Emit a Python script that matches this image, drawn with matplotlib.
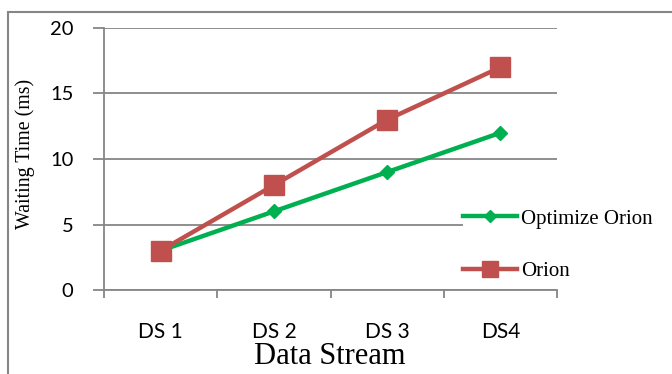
import matplotlib.pyplot as plt
from matplotlib.patches import Rectangle

# --------------------------------------------------
# Data
# --------------------------------------------------
streams = ["DS 1", "DS 2", "DS 3", "DS4"]
optimize_orion = [3, 6, 9, 12]
orion = [3, 8, 13, 17]
y_ticks = [0, 5, 10, 15, 20]

GRID = "#868686"
GREEN = "#00B050"
RED = "#C0504D"
TICK_FONT = ["Lato", "DejaVu Sans"]
SERIF = ["Liberation Serif", "DejaVu Serif"]

fig = plt.figure(figsize=(6.72, 3.74), dpi=100)
ax = fig.add_axes([104 / 672, 1 - 290 / 374, (557 - 104) / 672, (290 - 28) / 374])

x = list(range(len(streams)))
ax.plot(x, optimize_orion, color=GREEN, lw=3.2, marker="D", ms=7.5,
        label="Optimize Orion", zorder=3)
ax.plot(x, orion, color=RED, lw=3.2, marker="s", ms=14,
        label="Orion", zorder=4)

# axes, grid and ticks
ax.set_xlim(-0.5, len(streams) - 0.5)
ax.set_ylim(0, 20)
ax.set_yticks(y_ticks)
ax.set_yticklabels([str(v) for v in y_ticks], fontsize=14.5, family=TICK_FONT)
ax.tick_params(axis="y", length=8, width=1.3, color=GRID, pad=14)
ax.grid(axis="y", color=GRID, lw=1.3)
ax.set_axisbelow(True)

ax.set_xticks([i - 0.5 for i in range(len(streams) + 1)])
ax.set_xticklabels([])
ax.tick_params(axis="x", which="major", length=6, width=1.3, color=GRID)
ax.set_xticks(x, minor=True)
ax.set_xticklabels(streams, minor=True, fontsize=15, family=TICK_FONT)
ax.tick_params(axis="x", which="minor", length=0, pad=23)

for side in ["top", "right"]:
    ax.spines[side].set_visible(False)
for side in ["left", "bottom"]:
    ax.spines[side].set_color(GRID)
    ax.spines[side].set_linewidth(1.3)

ax.set_ylabel("Waiting Time (ms)", fontsize=14.3, family=SERIF)
ax.yaxis.set_label_coords(35 / 672, 1 - 154 / 374, transform=fig.transFigure)
fig.text(330 / 672, 1 - 357 / 374, "Data Stream", fontsize=22, family=SERIF,
         ha="center", va="center")

# legend on the right side of the plot
fig.legend(loc="upper left", bbox_to_anchor=(463 / 672, 1 - 209 / 374),
           prop={"family": SERIF, "size": 15}, frameon=True, facecolor="white",
           edgecolor="none", framealpha=1, fancybox=False, borderpad=0,
           borderaxespad=0, handlelength=2.6, handletextpad=0.2,
           labelspacing=1.6, markerscale=0.8)

# outer frame
fig.patches.append(Rectangle((8 / 672, -0.05), 1.0, 1 - 12 / 374 + 0.05,
                             transform=fig.transFigure, fill=False,
                             edgecolor=GRID, lw=1.5))

fig.savefig("out.png", dpi=100)
